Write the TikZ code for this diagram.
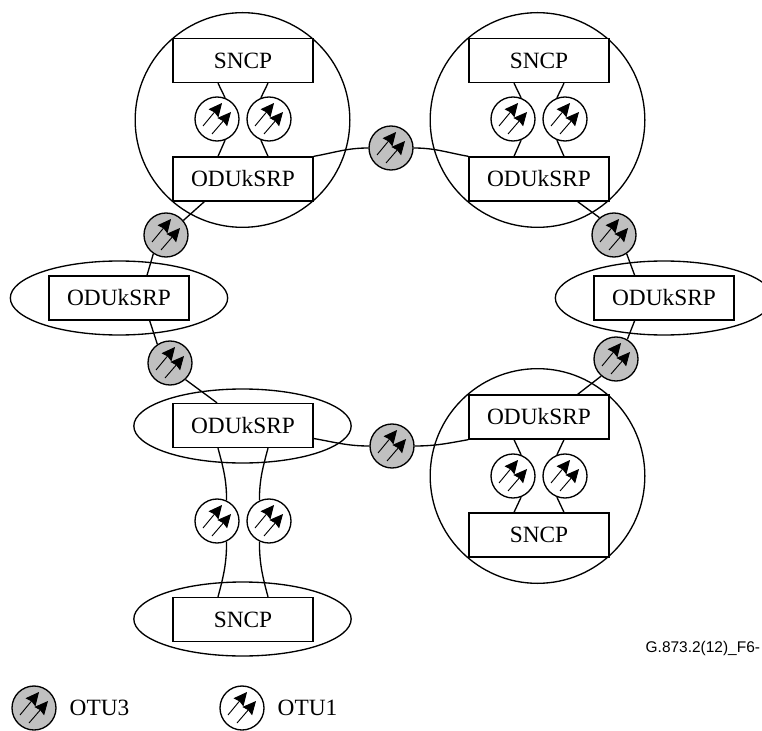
\documentclass[tikz,border=0pt]{standalone}
\usepackage{fontspec}
\setmainfont{Liberation Serif}
\newfontfamily\tagfont{Liberation Sans}
\usetikzlibrary{shapes.geometric,arrows.meta}

\tikzset{
  boxnode/.style={draw,fill=white,minimum width=105pt,minimum height=33pt,inner sep=0pt},
  bigcircle/.style={circle,draw,minimum size=161pt,inner sep=0pt},
  bigellipse/.style={ellipse,draw,minimum width=163pt,minimum height=55.5pt,inner sep=0pt},
  otu/.style={circle,draw,minimum size=33pt,inner sep=0pt,path picture={
    \draw[otuarrow] ([shift={(-14,-7)}]path picture bounding box.center) -- ([shift={(5,16)}]path picture bounding box.center);
    \draw[otuarrow] ([shift={(-5,-15)}]path picture bounding box.center) -- ([shift={(14,7)}]path picture bounding box.center);
  }},
  otugray/.style={otu,fill=otugrey},
  otuarrow/.style={-{Stealth[length=10pt,width=9.5pt,inset=1pt]},line width=0.7pt},
}
\definecolor{otugrey}{RGB}{192,192,192}

\begin{document}
\begin{tikzpicture}[x=0.75pt,y=0.75pt,line width=1pt,font=\fontsize{17.5pt}{20pt}\selectfont]

\useasboundingbox (0,0) rectangle (762,-730);

% big circles and ellipses
\node[bigcircle] (siteTL) at (242.5,-120) {};
\node[bigcircle] (siteTR) at (537.5,-120) {};
\node[bigcircle] (siteBR) at (537.5,-476) {};
\node[bigellipse] (siteL) at (119,-298) {};
\node[bigellipse] (siteR) at (664,-298) {};
\node[bigellipse] (siteBL) at (242.5,-426) {};
\node[bigellipse] (siteB) at (242.5,-619) {};

% boxes
\node[boxnode] (sncpTL) at (243,-60.5) {SNCP};
\node[boxnode] (oduTL) at (243,-179) {ODUkSRP};
\node[boxnode] (sncpTR) at (539,-60.5) {SNCP};
\node[boxnode] (oduTR) at (539,-179) {ODUkSRP};
\node[boxnode] (oduL) at (119,-298) {ODUkSRP};
\node[boxnode] (oduR) at (664,-298) {ODUkSRP};
\node[boxnode] (oduBL) at (243,-425.5) {ODUkSRP};
\node[boxnode] (oduBR) at (539,-417) {ODUkSRP};
\node[boxnode] (sncpBR) at (539,-535) {SNCP};
\node[boxnode] (sncpB) at (243,-619.5) {SNCP};

% OTU1 circles
\node[otu] (otuTLa) at (217,-119) {};
\node[otu] (otuTLb) at (269,-119) {};
\node[otu] (otuTRa) at (513,-119) {};
\node[otu] (otuTRb) at (565,-119) {};
\node[otu] (otuBRa) at (513,-476) {};
\node[otu] (otuBRb) at (565,-476) {};
\node[otu] (otuBa) at (217,-521) {};
\node[otu] (otuBb) at (269,-521) {};

% OTU3 circles
\node[otugray] (ringA) at (166,-235) {};
\node[otugray] (ringB) at (170,-363) {};
\node[otugray] (ringC) at (392,-446) {};
\node[otugray] (ringD) at (616,-359) {};
\node[otugray] (ringE) at (614,-235) {};
\node[otugray] (ringF) at (391,-148) {};

% links inside the sites
\draw ([xshift=-18.75pt]sncpTL.south) -- (otuTLa.69);
\draw ([xshift=18.75pt]sncpTL.south) -- (otuTLb.111);
\draw (otuTLa.-69) -- ([xshift=-18.75pt]oduTL.north);
\draw (otuTLb.-111) -- ([xshift=18.75pt]oduTL.north);
\draw ([xshift=-18.75pt]sncpTR.south) -- (otuTRa.69);
\draw ([xshift=18.75pt]sncpTR.south) -- (otuTRb.111);
\draw (otuTRa.-69) -- ([xshift=-18.75pt]oduTR.north);
\draw (otuTRb.-111) -- ([xshift=18.75pt]oduTR.north);
\draw ([xshift=-18.75pt]oduBR.south) -- (otuBRa.69);
\draw ([xshift=18.75pt]oduBR.south) -- (otuBRb.111);
\draw (otuBRa.-69) -- ([xshift=-18.75pt]sncpBR.north);
\draw (otuBRb.-111) -- ([xshift=18.75pt]sncpBR.north);

% links to the lower SNCP
\draw ([xshift=-18.75pt]oduBL.south) to[out=-75,in=90] (otuBa.65);
\draw ([xshift=18.75pt]oduBL.south) to[out=-105,in=90] (otuBb.115);
\draw (otuBa.-65) to[out=-90,in=75] ([xshift=-18.75pt]sncpB.north);
\draw (otuBb.-115) to[out=-90,in=105] ([xshift=18.75pt]sncpB.north);

% ring links
\draw ([xshift=-29pt]oduTL.south) -- (ringA.40);
\draw (ringA.236) -- ([xshift=21pt]oduL.north);
\draw ([xshift=23pt]oduL.south) -- (ringB.124);
\draw (ringB.-47) -- ([xshift=-19.5pt]oduBL.north);
\draw ([yshift=-9.75pt]oduBL.east) to[out=-10,in=180] (ringC.west);
\draw (ringC.east) to[out=0,in=190] (oduBR.south west);
\draw ([xshift=29pt]oduBR.north) -- (ringD.-131);
\draw (ringD.60) -- ([xshift=-22pt]oduR.south);
\draw ([xshift=-22pt]oduR.north) -- (ringE.-56);
\draw (ringE.130) -- ([xshift=29pt]oduTR.south);
\draw (oduTR.north west) to[out=170,in=0] (ringF.east);
\draw (ringF.west) to[out=180,in=10] (oduTL.north east);

% legend
\node[otugray] (keyA) at (34,-708) {};
\node[anchor=west,inner sep=0pt] (keyAtext) at (69,-708) {OTU3};
\node[otu] (keyB) at (242,-708) {};
\node[anchor=west,inner sep=0pt] (keyBtext) at (277,-708) {OTU1};

\node[anchor=west,inner sep=0pt,font=\fontsize{11.6pt}{13pt}\tagfont] (figtag) at (645,-648) {G.873.2(12)\_F6-};

\end{tikzpicture}
\end{document}
